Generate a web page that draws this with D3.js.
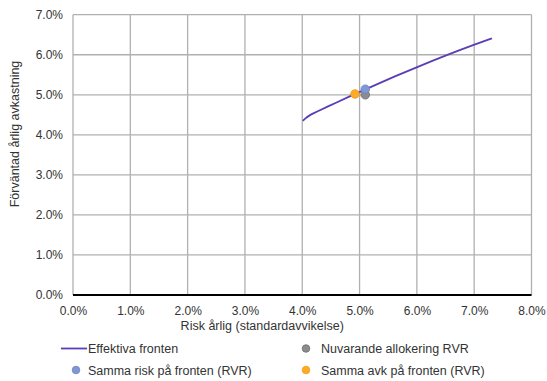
<!DOCTYPE html>
<html><head><meta charset="utf-8">
<script src="https://cdn.jsdelivr.net/npm/d3@7"></script>
<style>body{margin:0;background:#fff}svg{display:block;font-family:"Liberation Sans",Arial,sans-serif}</style>
</head><body><svg id="c" width="547" height="381"></svg>
<script>
const frontRisk   = [4.01, 4.06, 4.12, 4.20, 4.30, 4.45, 4.60, 4.80, 5.00, 5.30, 5.60, 6.00, 6.50, 7.00, 7.31];
const frontReturn = [4.35, 4.42, 4.48, 4.54, 4.61, 4.71, 4.81, 4.94, 5.07, 5.26, 5.45, 5.69, 5.98, 6.25, 6.41];
const currentPoint = {name:"Nuvarande allokering RVR", risk:5.10, ret:5.00};
const sameRiskPoint = {name:"Samma risk på fronten (RVR)", risk:5.10, ret:5.14};
const sameRetPoint = {name:"Samma avk på fronten (RVR)", risk:4.92, ret:5.02};
const xTicks = [0,1,2,3,4,5,6,7,8];
const yTicks = [0,1,2,3,4,5,6,7];
const xTitle = "Risk årlig (standardavvikelse)";
const yTitle = "Förväntad årlig avkastning";
const lineName = "Effektiva fronten";

const svg = d3.select("#c");
const L=73, R=531.5, T=14.7, B=295;
const x = d3.scaleLinear().domain([0,8]).range([L,R]);
const y = d3.scaleLinear().domain([0,7]).range([B,T]);
const fmt = d => d.toFixed(1)+"%";

// grid
const g = svg.append("g");
g.selectAll(".vx").data(xTicks).join("line")
  .attr("x1",d=>x(d)).attr("x2",d=>x(d)).attr("y1",T).attr("y2",B)
  .attr("stroke","#b0b0b0").attr("stroke-width",1.3);
g.selectAll(".hy").data(yTicks).join("line")
  .attr("x1",L).attr("x2",R).attr("y1",d=>y(d)).attr("y2",d=>y(d))
  .attr("stroke","#b0b0b0").attr("stroke-width",1.3);
// bottom axis line
g.append("line").attr("x1",L).attr("x2",R).attr("y1",B).attr("y2",B).attr("stroke","#000").attr("stroke-width",2);

// tick labels
const xa = svg.append("g").attr("transform",`translate(0,${B})`).call(d3.axisBottom(x).tickValues(xTicks).tickFormat(fmt).tickSize(0).tickPadding(11));
xa.select(".domain").remove();
xa.selectAll("text").attr("font-size",12).attr("fill","#333").attr("font-family","Liberation Sans, Arial, sans-serif");
const ya = svg.append("g").attr("transform",`translate(${L},0)`).call(d3.axisLeft(y).tickValues(yTicks).tickFormat(fmt).tickSize(0).tickPadding(10));
ya.select(".domain").remove();
ya.selectAll("text").attr("font-size",12).attr("fill","#333").attr("font-family","Liberation Sans, Arial, sans-serif");

// titles
svg.append("text").attr("x",(L+R)/2-40).attr("y",330).attr("text-anchor","middle").attr("font-size",12.5).attr("fill","#333").text(xTitle);
svg.append("text").attr("transform","translate(19,134) rotate(-90)").attr("text-anchor","middle").attr("font-size",12.5).attr("fill","#333").text(yTitle);

// frontier
const pts = frontRisk.map((r,i)=>[r,frontReturn[i]]);
svg.append("path").datum(pts).attr("fill","none").attr("stroke","#5b3db5").attr("stroke-width",1.8)
  .attr("d", d3.line().x(d=>x(d[0])).y(d=>y(d[1])).curve(d3.curveBasis));

const dots = [
  {p:currentPoint, fill:"#8c8c8c", stroke:"#6f6f6f"},
  {p:sameRiskPoint, fill:"#7f97d2", stroke:"#6a83c4"},
  {p:sameRetPoint, fill:"#fdab2a", stroke:"#f29b12"}
];
svg.selectAll(".dot").data(dots).join("circle")
  .attr("cx",d=>x(d.p.risk)).attr("cy",d=>y(d.p.ret)).attr("r",4.3)
  .attr("fill",d=>d.fill).attr("stroke",d=>d.stroke).attr("stroke-width",0.8);

// legend
const lg = svg.append("g").attr("font-size",12.5).attr("fill","#333");
lg.append("line").attr("x1",61).attr("x2",87).attr("y1",348.5).attr("y2",348.5).attr("stroke","#5b3db5").attr("stroke-width",1.8);
lg.append("text").attr("x",88).attr("y",353).text(lineName);
const legItems = [
  {d:dots[0], cx:306, cy:348.5, tx:321, ty:353},
  {d:dots[1], cx:76, cy:370, tx:88, ty:374.5},
  {d:dots[2], cx:306, cy:370, tx:321, ty:374.5}
];
legItems.forEach(it=>{
  lg.append("circle").attr("cx",it.cx).attr("cy",it.cy).attr("r",3.8).attr("fill",it.d.fill).attr("stroke",it.d.stroke).attr("stroke-width",0.8);
  lg.append("text").attr("x",it.tx).attr("y",it.ty).text(it.d.p.name);
});
</script></body></html>
